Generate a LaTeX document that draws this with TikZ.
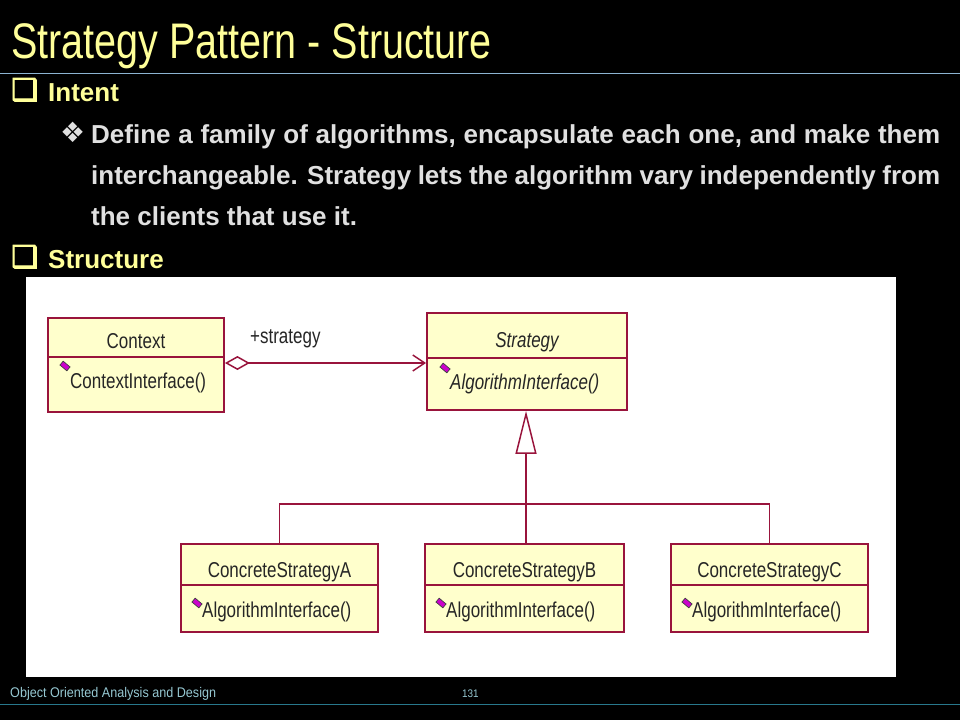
\documentclass[tikz,border=0pt]{standalone}
\usepackage{fontspec}
\setmainfont{Liberation Sans}
\newfontfamily\titlefont[FakeStretch=0.79]{Liberation Sans}
\newfontfamily\umlfont[FakeStretch=0.79]{Liberation Sans}
\newfontfamily\footfont[FakeStretch=0.9]{Liberation Sans}
\newfontfamily\symfont{DejaVu Sans}
\newfontfamily\boxsymfont[FakeBold=3]{DejaVu Sans}
\usetikzlibrary{arrows.meta}
\definecolor{titleyellow}{HTML}{FFFF99}
\definecolor{bodygray}{HTML}{E0E0E0}
\definecolor{umlred}{RGB}{153,20,60}
\definecolor{umlfill}{HTML}{FFFFCC}
\definecolor{iconmag}{HTML}{CC00CC}
\definecolor{titleline}{RGB}{140,180,210}
\definecolor{footline}{RGB}{40,120,140}
\definecolor{foottext}{RGB}{150,200,210}
\tikzset{
  slidetitle/.style={anchor=base west, inner sep=0, text=titleyellow, font=\titlefont\fontsize{50}{56}\selectfont},
  headtext/.style={anchor=base west, inner sep=0, text=titleyellow, font=\bfseries\fontsize{26}{30}\selectfont},
  bodytext/.style={anchor=base west, inner sep=0, text=bodygray, font=\bfseries\fontsize{26}{30}\selectfont},
  headsym/.style={anchor=base west, inner sep=0, text=titleyellow, font=\boxsymfont\fontsize{30}{34}\selectfont},
  bodysym/.style={anchor=base west, inner sep=0, text=bodygray, font=\symfont\fontsize{28}{32}\selectfont},
  foot/.style={anchor=base west, inner sep=0, text=foottext, font=\footfont\fontsize{14}{16}\selectfont},
  classbox/.style={draw=umlred, fill=umlfill, line width=1.8pt, inner sep=0},
  umltext/.style={inner sep=0, text=black!85, font=\umlfont\fontsize{21.5}{24}\selectfont},
  nametext/.style={umltext, anchor=base},
  optext/.style={umltext, anchor=base west},
  divider/.style={draw=umlred, line width=1.5pt},
  conn/.style={draw=umlred, line width=1.5pt},
  icon/.style={fill=iconmag, draw=black!75, line width=0.7pt, inner sep=0, minimum width=9pt, minimum height=5pt, rotate=-40}
}
\begin{document}
\begin{tikzpicture}[x=1pt,y=-1pt]
\fill[black] (0,0) rectangle (960,720);
\useasboundingbox (0,0) rectangle (960,720);
% title and rules
\node[slidetitle] (title) at (11,58) {Strategy Pattern - Structure};
\draw[titleline, line width=1pt] (0,73) -- (960,73);
\draw[footline, line width=1pt] (0,704) -- (960,704);
% text
\node[headsym] (b1) at (11,100) {❑};
\node[headtext] (intent) at (48,101) {Intent};
\node[bodysym] (b2) at (60,142) {❖};
\node[bodytext] (l1) at (91,143) {\makebox[849pt][s]{Define a family of algorithms, encapsulate each one, and make them}};
\node[bodytext] (l2) at (91,184) {\makebox[849pt][s]{interchangeable. Strategy lets the algorithm vary independently from}};
\node[bodytext] (l3) at (91,225) {the clients that use it.};
\node[headsym] (b3) at (11,267) {❑};
\node[headtext] (structure) at (48,268) {Structure};
% footer
\node[foot] (ft) at (10,697) {Object Oriented Analysis and Design};
\node[foot, font=\footfont\fontsize{11}{13}\selectfont] (pg) at (462,697) {131};
% white panel
\fill[white] (26,277) rectangle (896,677);
% class boxes
\node[classbox, minimum width=176pt, minimum height=94pt] (ctx) at (136,365) {};
\node[classbox, minimum width=200pt, minimum height=97pt] (strat) at (527,361.5) {};
\node[classbox, minimum width=197pt, minimum height=88pt] (csa) at (279.5,588) {};
\node[classbox, minimum width=199pt, minimum height=88pt] (csb) at (524.5,588) {};
\node[classbox, minimum width=197pt, minimum height=88pt] (csc) at (769.5,588) {};
% dividers
\draw[divider] (ctx.west |- 0,357) -- (ctx.east |- 0,357);
\draw[divider] (strat.west |- 0,358) -- (strat.east |- 0,358);
\draw[divider] (csa.west |- 0,585) -- (csa.east |- 0,585);
\draw[divider] (csb.west |- 0,585) -- (csb.east |- 0,585);
\draw[divider] (csc.west |- 0,585) -- (csc.east |- 0,585);
% names
\node[nametext] (ctxname) at (136,348) {Context};
\node[nametext] (stratname) at (527,347) {\itshape Strategy};
\node[nametext] (csaname) at (279.5,577) {ConcreteStrategyA};
\node[nametext] (csbname) at (524.5,577) {ConcreteStrategyB};
\node[nametext] (cscname) at (769.5,577) {ConcreteStrategyC};
% operations
\node[icon] (ic1) at (65,366) {};
\node[optext] (op1) at (70,388) {ContextInterface()};
\node[icon] (ic2) at (445,368) {};
\node[optext] (op2) at (450,389) {\itshape AlgorithmInterface()};
\node[icon] (ic3) at (197,603) {};
\node[optext] (op3) at (202,617) {AlgorithmInterface()};
\node[icon] (ic4) at (441,603) {};
\node[optext] (op4) at (446,617) {AlgorithmInterface()};
\node[icon] (ic5) at (687,603) {};
\node[optext] (op5) at (692,617) {AlgorithmInterface()};
% association (aggregation)
\draw[conn, {Diamond[open, length=25pt, width=14pt]}-{Straight Barb[length=12pt, width=16pt]}]
  (ctx.east |- 0,363) -- (strat.west |- 0,363);
\node[umltext, anchor=base west] (role) at (250,343) {+strategy};
% generalization
\coordinate (gen) at (526,504);
\draw[conn, -{Triangle[open, length=43pt, width=21pt]}] (gen) -- (gen |- strat.south);
\draw[conn] (csa.north) -- (csa.north |- gen) -- (csc.north |- gen) -- (csc.north);
\draw[conn] (csb.north -| gen) -- (gen);
\end{tikzpicture}
\end{document}
